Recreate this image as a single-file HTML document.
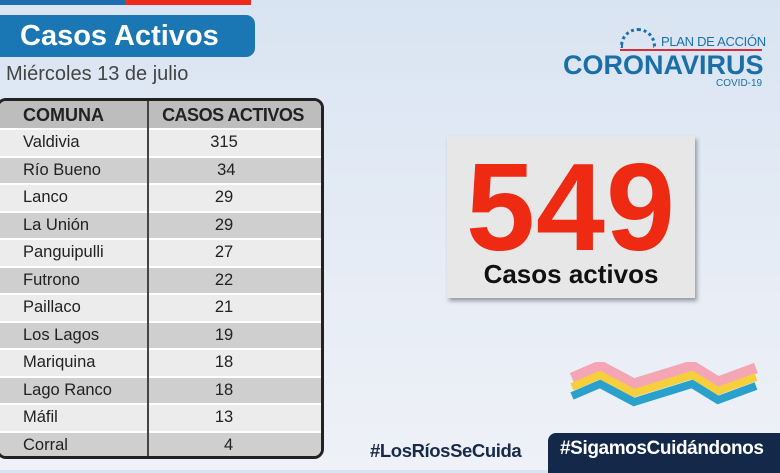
<!DOCTYPE html>
<html><head><meta charset="utf-8"><style>
*{margin:0;padding:0;box-sizing:border-box}
body{width:780px;height:470px;overflow:hidden;position:relative;font-family:"Liberation Sans",sans-serif;background:linear-gradient(180deg,#d9e4f2 0%,#e6ecf5 55%,#eef1f7 100%)}
.abs{position:absolute}
.tb{position:absolute;top:0;height:5px}
.pill{left:-10px;top:15px;width:265px;height:42px;background:#1b77b3;border-radius:9px;color:#fff;font-weight:bold;font-size:29px;line-height:42px;padding-left:30px}
.sub{left:6px;top:63px;font-size:20px;color:#444}
.tw{position:absolute;left:-4px;top:98px;width:328px;height:361px;border:3px solid #222;border-radius:10px;overflow:hidden;background:#fff;font-size:16.5px;color:#222}
.row{position:absolute;left:0;width:100%;height:25.5px;line-height:25.5px}
.row span{position:absolute}
.c1{left:24px}.c2{left:150px;width:150px;text-align:center}
.hd{top:0;height:27px;background:#bdbdbd;font-weight:bold;font-size:18px;line-height:28px}
.div{position:absolute;left:148px;top:0;width:1.5px;height:100%;background:#444}
.box{left:447px;top:136px;width:248px;height:162px;background:#e7e7e7;box-shadow:2px 3px 4px rgba(0,0,0,.35)}
.num{left:0;width:100%;top:12px;text-align:center;color:#ee2a12;font-weight:bold;font-size:124px;line-height:120px;letter-spacing:1px}
.cas{left:0;width:100%;top:123px;text-align:center;font-weight:bold;font-size:26px;color:#111}
</style></head><body>
<div class="tb" style="left:0;width:125px;background:#1b6fb0"></div>
<div class="tb" style="left:125px;width:126px;background:#ee2a1a"></div>
<div class="abs pill">Casos Activos</div>
<div class="abs sub">Miércoles 13 de julio</div>
<div class="tw">
<div class="row hd"><span class="c1">COMUNA</span><span class="c2" style="left:148px;width:172px;letter-spacing:-0.5px">CASOS ACTIVOS</span></div>
<div class="row" style="top:29px;background:#ececec"><span class="c1">Valdivia</span><span class="c2">315</span></div>
<div class="row" style="top:56.5px;background:#cfcfcf"><span class="c1">Río Bueno</span><span class="c2">&nbsp;34</span></div>
<div class="row" style="top:84px;background:#ececec"><span class="c1">Lanco</span><span class="c2">29</span></div>
<div class="row" style="top:111.5px;background:#cfcfcf"><span class="c1">La Unión</span><span class="c2">29</span></div>
<div class="row" style="top:139px;background:#ececec"><span class="c1">Panguipulli</span><span class="c2">27</span></div>
<div class="row" style="top:166.5px;background:#cfcfcf"><span class="c1">Futrono</span><span class="c2">22</span></div>
<div class="row" style="top:194px;background:#ececec"><span class="c1">Paillaco</span><span class="c2">21</span></div>
<div class="row" style="top:221.5px;background:#cfcfcf"><span class="c1">Los Lagos</span><span class="c2">19</span></div>
<div class="row" style="top:249px;background:#ececec"><span class="c1">Mariquina</span><span class="c2">18</span></div>
<div class="row" style="top:276.5px;background:#cfcfcf"><span class="c1">Lago Ranco</span><span class="c2">18</span></div>
<div class="row" style="top:304px;background:#ececec"><span class="c1">Máfil</span><span class="c2">13</span></div>
<div class="row" style="top:331.5px;background:#cfcfcf;height:27px"><span class="c1">Corral</span><span class="c2">&nbsp;&nbsp;4</span></div>
<div class="div"></div>
</div>
<div class="abs" style="left:620px;top:28px;width:36px;height:20px;border:3px dotted #1b6fb0;border-bottom:none;border-radius:20px 20px 0 0"></div>
<div class="abs" style="left:661px;top:34px;font-size:13px;color:#1b6fb0;letter-spacing:-0.3px">PLAN DE ACCIÓN</div>
<div class="abs" style="left:620px;top:49px;width:142px;height:2px;background:#d03040"></div>
<div class="abs" style="left:563px;top:52px;font-size:27px;line-height:27px;font-weight:bold;color:#1b6fa8;transform:scaleX(1.0);transform-origin:0 0">CORONAVIRUS</div>
<div class="abs" style="left:716px;top:78px;font-size:10px;color:#1b6fa8">COVID-19</div>
<div class="abs box"><div class="abs num">549</div><div class="abs cas">Casos activos</div></div>
<svg class="abs" style="left:568px;top:362px" width="192" height="52">
<polyline points="4,16 32,4 66,22 124,4 150,20 188,6" fill="none" stroke="#f4a6b4" stroke-width="11"/>
<polyline points="4,25 32,13 66,31 124,13 150,29 188,15" fill="none" stroke="#f5cf3c" stroke-width="8"/>
<polyline points="4,34 32,22 66,40 124,22 150,38 188,24" fill="none" stroke="#2aa0cc" stroke-width="8"/>
</svg>
<div class="abs" style="left:370px;top:440px;font-size:18.5px;font-weight:bold;color:#172a4a;letter-spacing:-0.4px">#LosRíosSeCuida</div>
<div class="abs" style="left:548px;top:433px;width:240px;height:40px;background:#14284a;border-radius:8px 8px 0 0"></div>
<div class="abs" style="left:560px;top:438px;font-size:19px;font-weight:bold;color:#fff;letter-spacing:-0.4px">#SigamosCuidándonos</div>
</body></html>
